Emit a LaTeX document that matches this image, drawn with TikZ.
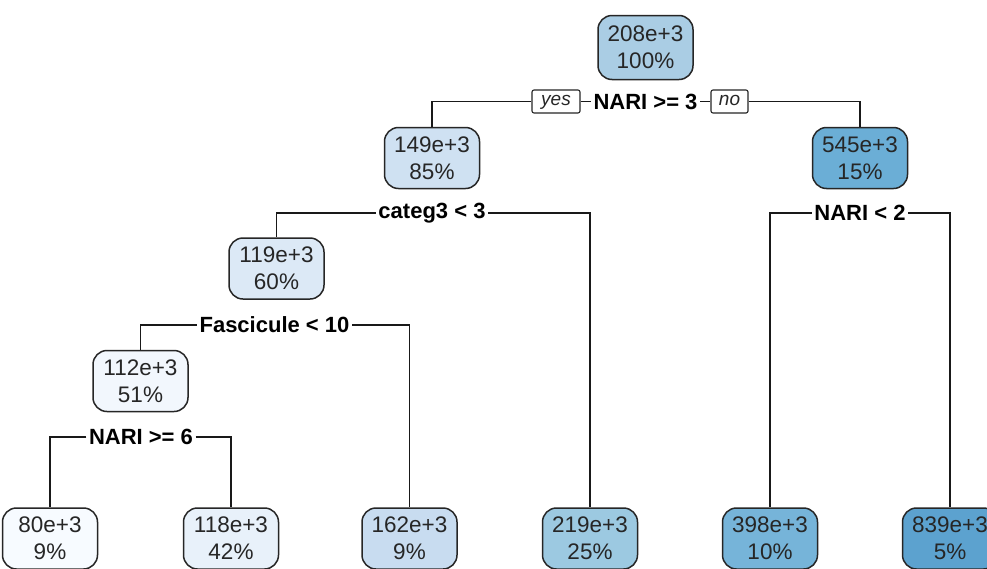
\documentclass[tikz,border=0pt]{standalone}
\usepackage{fontspec}
\setmainfont{Liberation Sans}
\begin{document}
\begin{tikzpicture}[x=1pt,y=-1pt,
  leaf/.style={draw=black!85, line width=1.5pt, rounded corners=14pt, minimum width=95pt, minimum height=61pt, align=center, inner sep=0pt, font=\fontsize{22.5}{27}\selectfont, text=black!85},
  split/.style={font=\bfseries\fontsize{22}{24}\selectfont, inner sep=2.5pt, text=black},
  yn/.style={draw=black!85, line width=1.1pt, rounded corners=2pt, font=\itshape\fontsize{19}{20}\selectfont, minimum width=48pt, minimum height=23pt, inner sep=1pt, text height=10pt, text depth=2pt, text=black!85},
  yn2/.style={yn, minimum width=37pt},
  conn/.style={draw=black!90, line width=1.5pt}
]
\definecolor{c1}{RGB}{170,205,228}
\definecolor{c2}{RGB}{207,225,242}
\definecolor{c3}{RGB}{107,174,214}
\definecolor{c4}{RGB}{220,233,246}
\definecolor{c5}{RGB}{242,247,253}
\definecolor{c6}{RGB}{247,251,255}
\definecolor{c7}{RGB}{232,241,250}
\definecolor{c8}{RGB}{200,220,240}
\definecolor{c9}{RGB}{156,201,225}
\definecolor{c10}{RGB}{118,180,217}
\definecolor{c11}{RGB}{92,162,207}
\clip (0,0) rectangle (987,568);
\useasboundingbox (0,0) rectangle (987,568);
\fill[white] (0,0) rectangle (987,568);

\node[leaf, fill=c1, minimum height=64pt] (root) at (645.5,47.5) {208e+3\\100\%};
\node[split] (s1) at (645.5,101.5) {NARI >= 3};
\node[yn] (yes) at (556,101.5) {yes};
\node[yn2] (no) at (729.5,101.5) {no};

\node[leaf, fill=c2] (n149) at (432,158) {149e+3\\85\%};
\node[leaf, fill=c3] (n545) at (860,158) {545e+3\\15\%};

\node[split] (s2) at (432,213) {categ3 < 3};
\node[split] (s3) at (860,213) {NARI < 2};

\node[leaf, fill=c4] (n119) at (276.5,268.5) {119e+3\\60\%};
\node[split] (s4) at (274.5,325) {Fascicule < 10};

\node[leaf, fill=c5] (n112) at (140.5,381) {112e+3\\51\%};
\node[split] (s5) at (141,437) {NARI >= 6};

\node[leaf, fill=c6] (n80) at (50,538.5) {80e+3\\9\%};
\node[leaf, fill=c7] (n118) at (231,538.5) {118e+3\\42\%};
\node[leaf, fill=c8] (n162) at (409.5,538.5) {162e+3\\9\%};
\node[leaf, fill=c9] (n219) at (590,538.5) {219e+3\\25\%};
\node[leaf, fill=c10] (n398) at (770,538.5) {398e+3\\10\%};
\node[leaf, fill=c11] (n839) at (950,538.5) {839e+3\\5\%};

\draw[conn] (yes.east) -- (s1.west);
\draw[conn] (s1.east) -- (no.west);
\draw[conn] (yes.west) -| (n149.north);
\draw[conn] (no.east) -| (n545.north);

\draw[conn] (s2.west) -| (n119.north);
\draw[conn] (s2.east) -| (n219.north);
\draw[conn] (s3.west) -| (n398.north);
\draw[conn] (s3.east) -| (n839.north);

\draw[conn] (s4.west) -| (n112.north);
\draw[conn] (s4.east) -| (n162.north);

\draw[conn] (s5.west) -| (n80.north);
\draw[conn] (s5.east) -| (n118.north);
\end{tikzpicture}
\end{document}
